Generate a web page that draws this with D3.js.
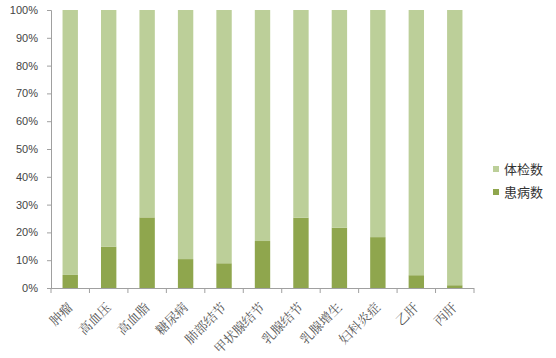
<!doctype html>
<html>
<head>
<meta charset="utf-8">
<script src="https://cdn.jsdelivr.net/npm/d3@7"></script>
<style>
	body{ margin:0; background:#fff; }
	svg text{ font-family: "Liberation Sans", "DejaVu Sans", sans-serif; }
</style>
</head>
<body>
<svg id="chart" width="556" height="358"></svg>
<script>
// categories and values (percent of each bar)
var categories = ["肿瘤", "高血压", "高血脂", "糖尿病", "肺部结节", "甲状腺结节", "乳腺结节", "乳腺增生", "妇科炎症", "乙肝", "丙肝"];
var patientPct = [4.7, 14.9, 25.4, 10.4, 8.9, 16.9, 25.3, 21.7, 18.3, 4.6, 1.0];
var yTicks = [0, 10, 20, 30, 40, 50, 60, 70, 80, 90, 100];
var seriesNames = ["体检数", "患病数"];
var colors = {"体检数": "#bccf99", "患病数": "#8fa64d"};

var svg = d3.select("#chart");
var plotLeft = 51, plotRight = 474, plotTop = 10, plotBottom = 288;

var x = d3.scaleBand().domain(categories).range([plotLeft, plotRight]).paddingInner(0.6).paddingOuter(0.3);
var y = d3.scaleLinear().domain([0, 100]).range([plotBottom, plotTop]);

var rows = categories.map(function(c, i){
	return {cat: c, "患病数": patientPct[i], "体检数": 100 - patientPct[i]};
});
var stack = d3.stack().keys(["患病数", "体检数"])(rows);

svg.selectAll("g.layer").data(stack).enter().append("g")
	.attr("class", "layer")
	.attr("fill", function(d){ return colors[d.key]; })
	.selectAll("rect").data(function(d){ return d; }).enter().append("rect")
	.attr("x", function(d){ return x(d.data.cat); })
	.attr("width", x.bandwidth())
	.attr("y", function(d){ return y(d[1]); })
	.attr("height", function(d){ return y(d[0]) - y(d[1]); });

// y axis
var yAxis = svg.append("g").attr("transform", "translate(" + plotLeft + ",0)")
	.call(d3.axisLeft(y).tickValues(yTicks).tickSize(4).tickFormat(function(d){ return d + "%"; }));
yAxis.select(".domain").attr("stroke", "#a0a0a0");
yAxis.selectAll(".tick line").attr("stroke", "#a0a0a0");
yAxis.selectAll(".tick text").attr("fill", "#444").attr("font-size", "11px").attr("x", -13);

// x axis with ticks on category boundaries
var bounds = d3.range(categories.length + 1).map(function(i){ return plotLeft + i * (plotRight - plotLeft) / categories.length; });
var xg = svg.append("g");
xg.append("line").attr("x1", plotLeft).attr("x2", plotRight).attr("y1", plotBottom + 0.5).attr("y2", plotBottom + 0.5).attr("stroke", "#a0a0a0");
xg.selectAll("line.tk").data(bounds).enter().append("line").attr("class", "tk")
	.attr("x1", function(d){ return d; }).attr("x2", function(d){ return d; })
	.attr("y1", plotBottom).attr("y2", plotBottom + 5).attr("stroke", "#a0a0a0");
xg.selectAll("text").data(categories).enter().append("text")
	.attr("transform", function(d){ return "translate(" + (x(d) + x.bandwidth() / 2) + "," + (plotBottom + 17) + ") rotate(-45)"; })
	.attr("text-anchor", "end")
	.attr("dy", "0.35em")
	.attr("fill", "#555")
	.style("font-family", "'Noto Serif CJK SC', 'Noto Sans CJK SC', sans-serif")
	.attr("font-size", "13px")
	.text(function(d){ return d; });

// legend
var lg = svg.append("g").selectAll("g").data(seriesNames).enter().append("g")
	.attr("transform", function(d, i){ return "translate(493," + (169 + i * 23) + ")"; });
lg.append("rect").attr("x", 0).attr("y", -3).attr("width", 6).attr("height", 6)
	.attr("fill", function(d){ return colors[d]; });
lg.append("text").attr("x", 11).attr("dy", "0.35em").attr("font-size", "13px").attr("fill", "#333")
	.style("font-family", "'Noto Sans CJK SC', sans-serif")
	.text(function(d){ return d; });
</script>
</body>
</html>
